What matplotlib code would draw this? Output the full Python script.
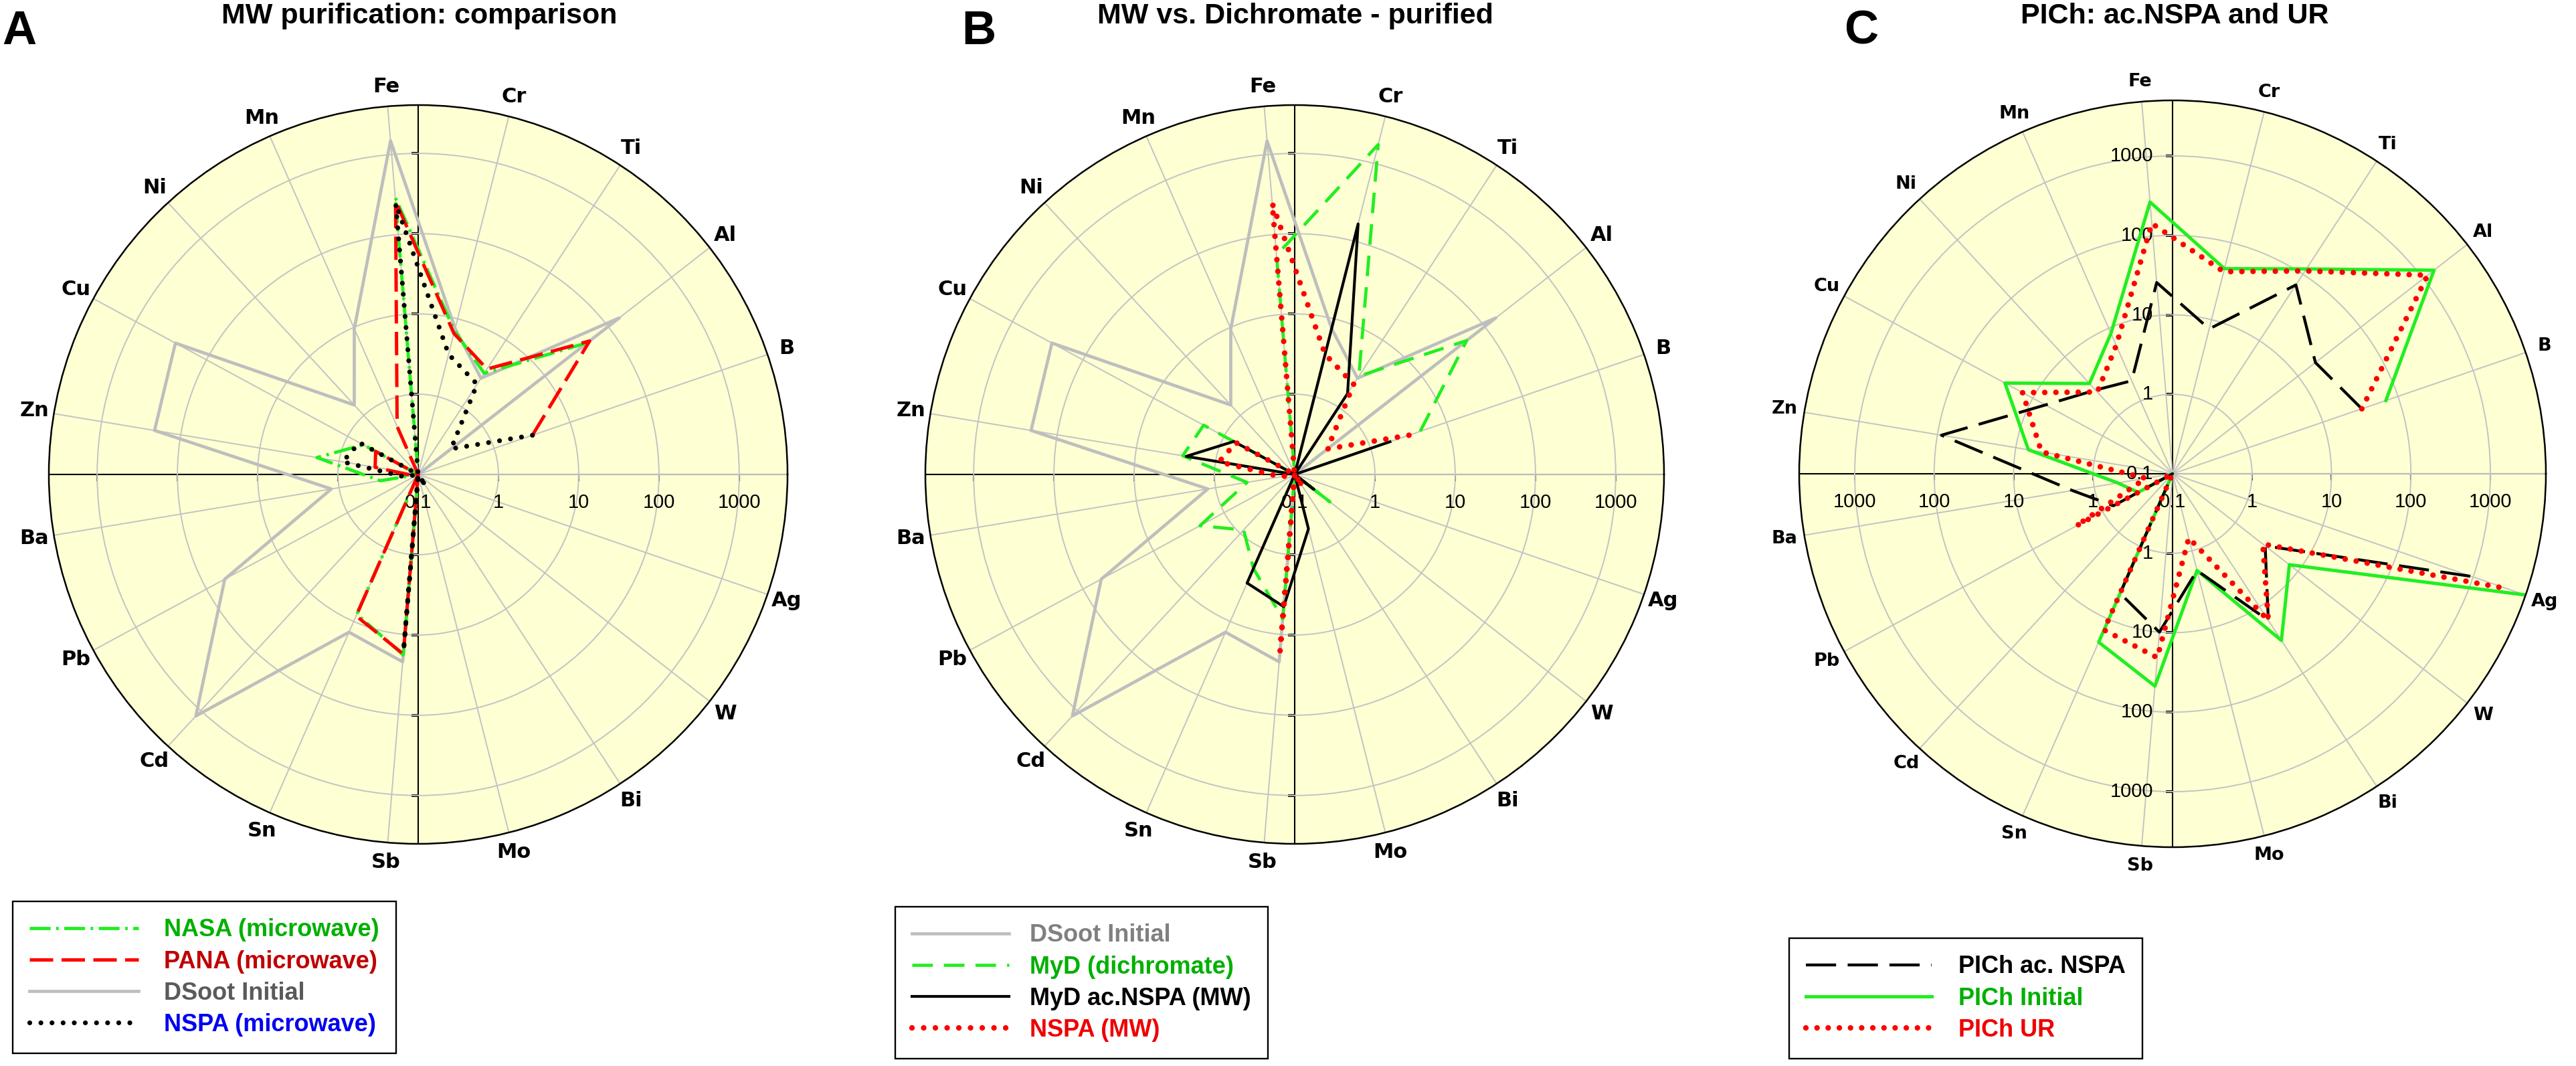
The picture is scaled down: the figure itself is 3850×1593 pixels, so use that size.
import numpy as np
import matplotlib
matplotlib.use('Agg')
import matplotlib.pyplot as plt

plt.rcParams['font.family'] = ['Liberation Sans', 'DejaVu Sans']

# ---------------- data ----------------
elements = ['B', 'Al', 'Ti', 'Cr', 'Fe', 'Mn', 'Ni', 'Cu', 'Zn', 'Ba',
            'Pb', 'Cd', 'Sn', 'Sb', 'Mo', 'Bi', 'W', 'Ag']
radial_ticks = [1, 10, 100, 1000]
radial_tick_labels = ['1', '10', '100', '1000']
center_label = '0.1'

# Panel A / B (shared)
dsoot_initial = [0.1, 150, 2.7, 7.5, 1480, 9.6, 1.5, 275, 214, 1.25, 55, 1230, 14, 22, 0.1, 0.1, 0.1, 0.1]
nasa_mw = [np.nan, 47, 3.2, 7.0, 290, 0.1, 0.1, 0.6, 1.9, 0.3, 0.1, 0.1, 8.0, 18, 0.1, 0.1, 0.1, 0.1]
pana_mw = [3.2, 51, 3.7, 6.5, 260, 0.45, 0.1, 0.4, 0.35, 0.12, 0.1, 0.1, 8.4, 17.6, 0.1, 0.1, 0.1, 0.1]
nspa_mw = [3.2, 0.33, 2.2, 3.5, 245, 0.1, 0.1, 0.68, 0.9, 0.15, 0.1, 0.1, 0.1, 16, 0.1, 0.15, 0.1, 0.1]
# Panel B
myd_dichromate = [4.5, 52, 2.9, 1740, 55, 0.1, 0.1, 1.95, 2.6, 0.4, 2.2, 0.87, 1.9, 6.4, 0.1, 0.1, 0.36, 0.1]
myd_acnspa_mw = [1.8, 0.1, 1.6, 166, 0.1, 0.1, 0.1, 0.73, 2.35, 0.1, 0.1, 0.1, 3.0, 4.5, 0.5, 0.1, 0.2, 0.1]
# Panel C
pich_acnspa = [33, 19, 69, 7.6, 26, 1.9, 2.7, 6.6, 89, 1.9, 0.7, 0.1, 4.4, 10, 1.8, 16, 3.0, 950]
pich_initial = [69, 1480, 120, 46, 270, 8.5, 3.5, 25, 6.9, 0.5, 0.31, 0.1, 20.6, 48, 1.8, 32, 7.3, 5000]
pich_ur = [33, 1170, 112, 42, 145, 5.8, 2.5, 14, 4.7, 0.22, 2.4, 0.1, 14, 21, 0.68, 16, 2.75, 2850]

# ---------------- style ----------------
RMIN = 0.1
BG = '#FFFFD4'
GRID = '#C3C3C3'
LIME = '#22EE22'
RED = '#FF0000'
GRAY = '#BEBEBE'

N = len(elements) + 1
spoke_deg = np.arange(N) * 360.0 / N
theta = np.deg2rad(spoke_deg[1:])

W, H = 3850, 1593
fig = plt.figure(figsize=(W / 100, H / 100), dpi=100)
fig.patch.set_facecolor('white')


def rect(cx, cy, R):
    return [(cx - R) / W, (H - cy - R) / H, 2 * R / W, 2 * R / H]


def setup(cx, cy, R, rmax, label_size):
    ax = fig.add_axes(rect(cx, cy, R), projection='polar')
    ax.set_facecolor(BG)
    ax.set_rscale('log')
    ax.set_rlim(RMIN, rmax)
    ax.set_thetagrids(spoke_deg, labels=[''] + elements)
    for lbl in ax.get_xticklabels():
        lbl.set_fontfamily('DejaVu Sans')
        lbl.set_fontsize(label_size)
        lbl.set_fontweight('bold')
    ax.set_rgrids(radial_ticks, labels=[''] * len(radial_ticks))
    ax.grid(True, color=GRID, lw=1.4)
    ax.tick_params(axis='x', direction='out', length=8.5, width=1.5, pad=6, colors='black')
    ax.tick_params(axis='y', length=0)
    ax.spines['polar'].set_color('black')
    ax.spines['polar'].set_linewidth(1.8)
    for a in [0, np.pi / 2, np.pi, 3 * np.pi / 2]:
        ax.plot([a, a], [RMIN, rmax], color='black', lw=1.5, zorder=1.5)
    for a, m in [(0, 3), (np.pi, 3), (np.pi / 2, 0), (3 * np.pi / 2, 0)]:
        ax.plot(np.full(4, a), radial_ticks, ls='none', marker=m, ms=7.2, mew=1.5,
                color='black', zorder=1.5)
    return ax


def hlabels(ax, th, with_center=True):
    items = list(zip(radial_ticks, radial_tick_labels))
    if with_center:
        items = [(RMIN, center_label)] + items
    for r, t in items:
        ax.annotate(t, xy=(th, r), xytext=(0, -20), textcoords='offset points',
                    ha='center', va='top', fontsize=21, zorder=1.6)


def vlabels(ax, th, with_center=True):
    items = list(zip(radial_ticks, radial_tick_labels))
    if with_center:
        items = [(RMIN, center_label)] + items
    for r, t in items:
        ax.annotate(t, xy=(th, r), xytext=(-21, 0), textcoords='offset points',
                    ha='right', va='center', fontsize=21, zorder=1.6)


def series(ax, vals, rmax, **kw):
    a = np.array(vals, dtype=float)
    a = np.where(np.isnan(a), np.nan, np.clip(a, RMIN, rmax))
    return ax.plot(theta, a, **kw)[0]


def make_legend(handles, labels, colors, x, y, hl, htp):
    leg = fig.legend(handles, labels, loc='upper left', bbox_to_anchor=(x / W, 1 - y / H),
                     frameon=True, fancybox=False, edgecolor='black', framealpha=1,
                     prop={'weight': 'bold', 'size': 26}, handlelength=hl,
                     handletextpad=htp, labelspacing=0.34, borderpad=0.7, borderaxespad=0)
    leg.get_frame().set_linewidth(1.7)
    for t, c in zip(leg.get_texts(), colors):
        t.set_color(c)
    return leg


def title(x, s):
    fig.text(x / W, 1 - 35 / H, s, ha='center', va='baseline', fontsize=31, fontweight='bold')


def letter(x, s):
    fig.text(x / W, 1 - 66 / H, s, ha='left', va='baseline', fontsize=51, fontweight='bold')


dotted = dict(dash_capstyle='round')

# ---------------- Panel A ----------------
RMAX_AB = 4000
axA = setup(625, 709, 552, RMAX_AB, 22)
hlabels(axA, 0)
gA = series(axA, dsoot_initial, RMAX_AB, color=GRAY, lw=3.4, zorder=2)
nA = series(axA, nasa_mw, RMAX_AB, color=LIME, lw=3.5, ls=(0, (6.4, 1.7, 0.8, 1.7)), zorder=3)
pA = series(axA, pana_mw, RMAX_AB, color=RED, lw=3.6, ls=(0, (7, 2.5)), zorder=4)
sA = series(axA, nspa_mw, RMAX_AB, color='black', lw=5.2, ls=(0, (0.001, 2.3)), zorder=5, **dotted)
make_legend([nA, pA, gA, sA],
            ['NASA (microwave)', 'PANA (microwave)', 'DSoot Initial', 'NSPA (microwave)'],
            ['#00B000', '#C00000', '#5A5A5A', '#0000F0'], 19, 1347, 4.5, 1.05)
title(627, 'MW purification: comparison')
letter(3, 'A')

# ---------------- Panel B ----------------
axB = setup(1935, 709, 552, RMAX_AB, 22)
hlabels(axB, 0)
gB = series(axB, dsoot_initial, RMAX_AB, color=GRAY, lw=3.4, zorder=2)
mB = series(axB, myd_dichromate, RMAX_AB, color=LIME, lw=3.4, ls=(0, (6.5, 3.5)), zorder=3)
kB = series(axB, myd_acnspa_mw, RMAX_AB, color='black', lw=3.0, zorder=4)
rB = series(axB, nspa_mw, RMAX_AB, color=RED, lw=6.0, ls=(0, (0.001, 2.1)), zorder=5, **dotted)
make_legend([gB, mB, kB, rB],
            ['DSoot Initial', 'MyD (dichromate)', 'MyD ac.NSPA (MW)', 'NSPA (MW)'],
            ['#808080', '#00B000', 'black', '#EE0000'], 1338, 1355, 4.0, 0.86)
title(1936, 'MW vs. Dichromate - purified')
letter(1437, 'B')

# ---------------- Panel C ----------------
RMAX_C = 5000
axC = setup(3247, 708, 558, RMAX_C, 19.5)
hlabels(axC, 0)
hlabels(axC, np.pi, with_center=False)
vlabels(axC, np.pi / 2)
vlabels(axC, 3 * np.pi / 2, with_center=False)
giC = series(axC, pich_initial, RMAX_C, color=LIME, lw=3.6, zorder=2)
kC = series(axC, pich_acnspa, RMAX_C, color='black', lw=3.1, ls=(0, (10.5, 4)), zorder=3)
rC = series(axC, pich_ur, RMAX_C, color=RED, lw=6.0, ls=(0, (0.001, 2.0)), zorder=4, **dotted)
make_legend([kC, giC, rC], ['PICh ac. NSPA', 'PICh Initial', 'PICh UR'],
            ['black', '#00B000', '#EE0000'], 2674, 1402, 5.2, 1.1)
title(3250, 'PICh: ac.NSPA and UR')
letter(2756, 'C')

fig.savefig('out.png', dpi=100, facecolor='white')
